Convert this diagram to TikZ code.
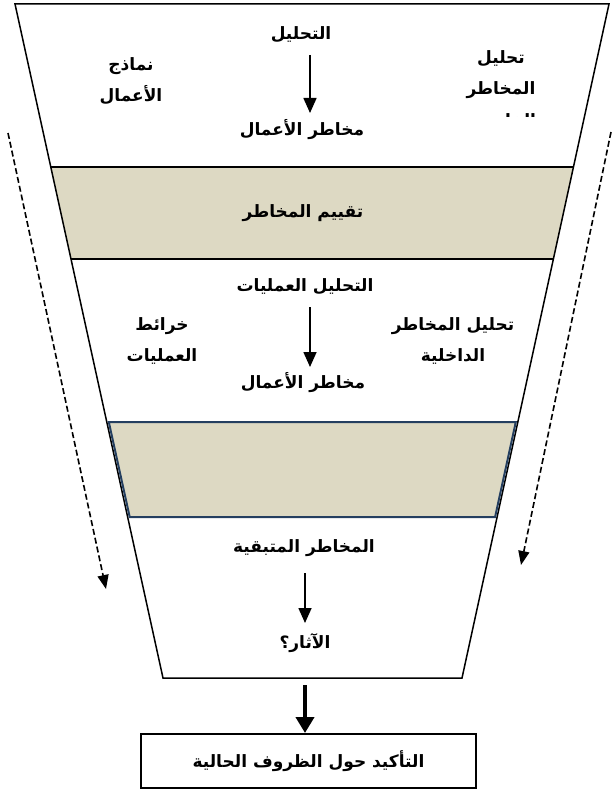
\documentclass[tikz,border=0pt]{standalone}
\usepackage{fontspec}
\usetikzlibrary{arrows.meta}
\newfontfamily\arabicfont[Script=Arabic]{DejaVu Sans}
\TeXXeTstate=1
\definecolor{tanfill}{HTML}{DDD9C3}
\definecolor{bandblue}{HTML}{243F60}
\begin{document}
\begin{tikzpicture}[x=1pt,y=-1pt,
  ar/.style={font=\arabicfont\bfseries\fontsize{17}{31}\selectfont, inner sep=0pt, align=center},
  thinarrow/.style={line width=1.6pt, -{Triangle[width=13pt,length=15pt]}},
  dasharrow/.style={line width=1.6pt, dash pattern=on 6pt off 3pt, -{Triangle[width=11pt,length=14pt]}},
  thickarrow/.style={line width=4.5pt, -{Triangle[width=18pt,length=16pt]}},
  outline/.style={line width=1.5pt, line join=miter},
  resultbox/.style={draw, line width=2pt, minimum width=335pt, minimum height=54pt, inner sep=0pt, font=\arabicfont\bfseries\fontsize{17}{20}\selectfont}]
\useasboundingbox (0,0) rectangle (612,789);

% bands (fills)
\fill[tanfill] (50.8,167) -- (573.4,167) -- (553.4,259) -- (71.0,259) -- cycle;
\fill[tanfill] (108.8,422) -- (515.8,422) -- (495.1,517) -- (129.7,517) -- cycle;

% funnel outline
\draw[outline] (15,4) -- (609,4) -- (462,678) -- (163,678) -- cycle;
\draw[line width=1.5pt] (50.8,167) -- (573.4,167);
\draw[line width=1.5pt] (71.0,259) -- (553.4,259);
\draw[line width=2pt, bandblue] (108.8,422) -- (515.8,422) -- (495.1,517) -- (129.7,517) -- cycle;

% top section
\node[ar] (t1) at (301,35) {\beginR التحليل\endR};
\node[ar] (t2) at (302,130) {\beginR مخاطر الأعمال\endR};
\node[ar] (t3) at (131,81) {\beginR نماذج\endR\\\beginR الأعمال\endR};
\node[ar] (t4) at (501,75) {\beginR تحليل\endR\\\beginR المخاطر\endR};
\begin{scope}
  \clip (440,100) rectangle (560,117);
  \node[ar] (t4b) at (501,122) {\beginR الخارجية\endR};
\end{scope}
\coordinate (a1s) at (310,55);
\coordinate (a1e) at (310,113);
\draw[thinarrow] (a1s) -- (a1e);

% band 1
\node[ar] (b1) at (303,213) {\beginR تقييم المخاطر\endR};

% middle section
\node[ar] (m1) at (305,287) {\beginR التحليل العمليات\endR};
\node[ar] (m2) at (162,341) {\beginR خرائط\endR\\\beginR العمليات\endR};
\node[ar] (m3) at (453,341) {\beginR تحليل المخاطر\endR\\\beginR الداخلية\endR};
\node[ar] (m4) at (303,383) {\beginR مخاطر الأعمال\endR};
\coordinate (a2s) at (310,307);
\coordinate (a2e) at (310,367);
\draw[thinarrow] (a2s) -- (a2e);

% bottom section
\node[ar] (r1) at (304,548) {\beginR المخاطر المتبقية\endR};
\node[ar] (r2) at (305,643) {\beginR الآثار؟\endR};
\coordinate (a3s) at (305,573);
\coordinate (a3e) at (305,623);
\draw[thinarrow] (a3s) -- (a3e);

% result box
\node[resultbox] (box) at (308.5,761) {\beginR التأكيد حول الظروف الحالية\endR};
\coordinate (a4s) at (305,685);
\draw[thickarrow] (a4s) -- (box.north -| a4s) ;

% dashed side arrows
\coordinate (dl1) at (8,133);
\coordinate (dl2) at (106,589);
\coordinate (dr1) at (611,132);
\coordinate (dr2) at (521,565);
\draw[dasharrow] (dl1) -- (dl2);
\draw[dasharrow] (dr1) -- (dr2);
\end{tikzpicture}
\end{document}
